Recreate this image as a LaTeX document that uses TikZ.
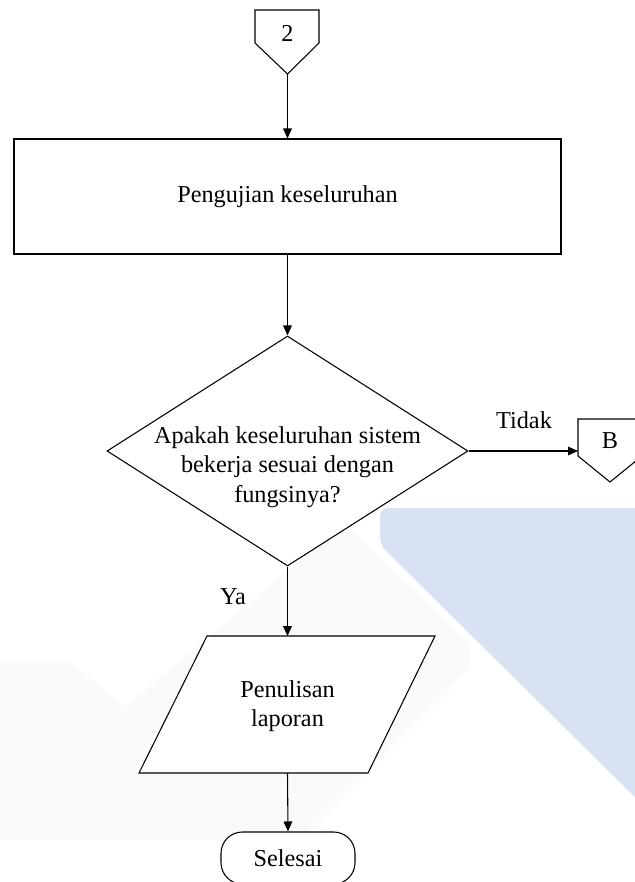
\documentclass[tikz,border=0pt]{standalone}
\usepackage{fontspec}
\setmainfont{Liberation Serif}
\usetikzlibrary{arrows.meta,shapes.geometric}
\definecolor{wmblue}{HTML}{D9E2F3}
\definecolor{wmgray}{HTML}{FAFAFA}
\begin{document}
\begin{tikzpicture}[x=0.75pt,y=-0.75pt,
  line/.style={draw=black, line width=0.8pt},
  flow/.style={line, -{Triangle[length=7.5pt,width=6.5pt]}},
  lbl/.style={font=\fontsize{18.2}{22}\selectfont, align=center, inner sep=0pt},
  procbox/.style={line, fill=white, rectangle, inner sep=0pt,
    minimum width=410.25pt, minimum height=86.25pt, font=\fontsize{18.2}{22}\selectfont},
  decision/.style={line, fill=white, diamond, inner sep=0pt,
    minimum width=270.75pt, minimum height=172.5pt},
  terminal/.style={line, fill=white, rectangle, rounded corners=16pt, inner sep=0pt,
    minimum width=100.5pt, minimum height=39pt, font=\fontsize{18.2}{22}\selectfont},
  offpage/.style={line, fill=white}]
\useasboundingbox (0,0) rectangle (635,882);
\clip (0,0) rectangle (635,882);

% background watermark shapes
\fill[wmgray] (0,662) -- (70,662) -- (125,707) -- (345,522) -- (470,645)
  -- (470,668) -- (300,840) -- (0,840) -- cycle;
\fill[wmblue, rounded corners=6pt] (380,545) -- (380,508) -- (660,508)
  -- (660,822) -- cycle;

% off-page connector 2
\draw[offpage] (255,10) -- (319,10) -- (319,43) -- (287.5,74) -- (255,43) -- cycle;
\node[lbl] (c2) at (287.5,33) {2};
\coordinate (c2tip) at (287.5,74);

% process
\node[procbox] (test) at (287.5,196.5) {Pengujian keseluruhan};

% decision
\node[decision] (dec) at (287.5,451) {};
\node[lbl] (dectext) at (287.5,467)
  {Apakah keseluruhan sistem\\bekerja sesuai dengan\\fungsinya?};

% off-page connector B
\draw[offpage] (578,419) -- (642,419) -- (642,456) -- (610,482) -- (578,456) -- cycle;
\node[lbl] (cB) at (610,441) {B};
\coordinate (cBin) at (578,451);

% input/output
\draw[line, fill=white] (139,773) -- (207,636) -- (435,636) -- (368,773) -- cycle;
\node[lbl] (lap) at (287.5,706) {Penulisan\\laporan};
\coordinate (lapTop) at (287.5,636);
\coordinate (lapBot) at (287.5,773);

% terminal
\node[terminal] (sel) at (288,858) {Selesai};

% connectors
\draw[flow] (c2tip) -- (test.north);
\draw[flow] (test.south) -- (dec.north);
\draw[flow] (dec.east) -- (cBin);
\draw[flow] (dec.south) -- (lapTop);
\draw[flow] (lapBot) -- (sel.north);

% branch labels
\node[lbl] (tidak) at (524,420) {Tidak};
\node[lbl] (ya) at (233,597) {Ya};
\end{tikzpicture}
\end{document}
